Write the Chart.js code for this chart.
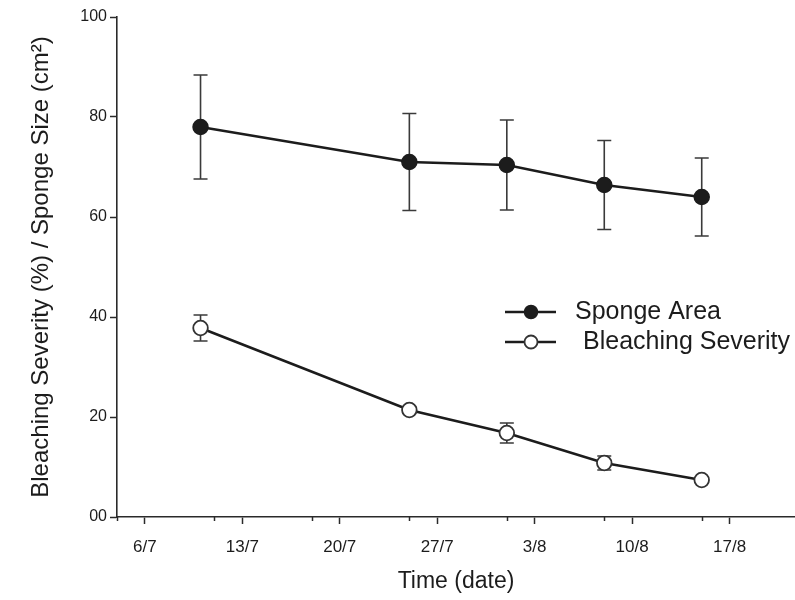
<!DOCTYPE html>
<html>
<head>
<meta charset="utf-8">
<script src="https://cdn.jsdelivr.net/npm/chart.js@4"></script>
<style>
  html, body { margin: 0; padding: 0; background: #ffffff; }
  #wrap { width: 795px; height: 600px; }
</style>
</head>
<body>
<div id="wrap"><canvas id="c" width="795" height="600"></canvas></div>
<script>
// ---- data (x values are days counted from 1 July as day 1; August days = 31 + date) ----
const sampleDays = [10, 25, 32, 39, 46];
const spongeArea = [78.0, 71.0, 70.4, 66.4, 64.0];
const spongeAreaErr = [10.4, 9.7, 9.0, 8.9, 7.8];
const bleachingSeverity = [37.8, 21.4, 16.8, 10.8, 7.4];
const bleachingSeverityErr = [2.6, 0.7, 2.0, 1.4, 0.4];
const seriesLabels = ['Sponge Area', 'Bleaching Severity'];

const xTickDays = [6, 13, 20, 27, 34, 41, 48];
const xTickLabels = ['6/7', '13/7', '20/7', '27/7', '3/8', '10/8', '17/8'];
const xMinorTickDays = [4, 11, 18, 25, 32, 39, 46];
const xRange = [4, 52.7];

const yTickValues = [0, 20, 40, 60, 80, 100];
const yTickLabels = ['00', '20', '40', '60', '80', '100'];
const yRange = [0, 100];

const xTitle = 'Time (date)';
const yTitle = 'Bleaching Severity (%) / Sponge Size (cm\u00B2)';

// ---- styles ----
const INK = '#1c1c1c';
const AXIS = '#2a2a2a';
const FONT = "'Liberation Sans', Arial, sans-serif";
const NARROW = "'Liberation Sans Narrow', 'Liberation Sans', Arial, sans-serif";

const spongePts = sampleDays.map((d, i) => ({ x: d, y: spongeArea[i] }));
const bleachPts = sampleDays.map((d, i) => ({ x: d, y: bleachingSeverity[i] }));

const errorBarPlugin = {
  id: 'errorBars',
  beforeDatasetsDraw(chart) {
    const { ctx, scales: { x, y } } = chart;
    const sets = [[spongeArea, spongeAreaErr], [bleachingSeverity, bleachingSeverityErr]];
    ctx.save();
    ctx.strokeStyle = '#3a3a3a';
    ctx.lineWidth = 1.6;
    sets.forEach(([vals, errs]) => {
      vals.forEach((v, i) => {
        const px = x.getPixelForValue(sampleDays[i]);
        const top = y.getPixelForValue(v + errs[i]);
        const bot = y.getPixelForValue(v - errs[i]);
        ctx.beginPath();
        ctx.moveTo(px, top); ctx.lineTo(px, bot);
        ctx.moveTo(px - 7, top); ctx.lineTo(px + 7, top);
        ctx.moveTo(px - 7, bot); ctx.lineTo(px + 7, bot);
        ctx.stroke();
      });
    });
    ctx.restore();
  }
};

const minorTickPlugin = {
  id: 'minorTicks',
  afterDraw(chart) {
    const { ctx, scales: { x }, chartArea } = chart;
    ctx.save();
    ctx.strokeStyle = AXIS;
    ctx.lineWidth = 1.5;
    xMinorTickDays.forEach(d => {
      const px = Math.round(x.getPixelForValue(d)) + 0.5;
      ctx.beginPath();
      ctx.moveTo(px, chartArea.bottom);
      ctx.lineTo(px, chartArea.bottom + 4);
      ctx.stroke();
    });
    ctx.restore();
  }
};

const legendPlugin = {
  id: 'insideLegend',
  afterDraw(chart) {
    const { ctx } = chart;
    const rows = [
      { ds: 0, y: 312, tx: 575 },
      { ds: 1, y: 342, tx: 583 }
    ];
    ctx.save();
    rows.forEach(r => {
      const ds = chart.data.datasets[r.ds];
      ctx.strokeStyle = ds.borderColor;
      ctx.lineWidth = 2.5;
      ctx.beginPath();
      ctx.moveTo(505, r.y); ctx.lineTo(556, r.y);
      ctx.stroke();
      ctx.beginPath();
      ctx.arc(531, r.y, 6.5, 0, Math.PI * 2);
      ctx.fillStyle = ds.pointBackgroundColor;
      ctx.fill();
      ctx.lineWidth = ds.pointBorderWidth;
      ctx.strokeStyle = ds.pointBorderColor;
      ctx.stroke();
      ctx.fillStyle = INK;
      ctx.font = '25px ' + FONT;
      ctx.textBaseline = 'middle';
      ctx.textAlign = 'left';
      ctx.fillText(ds.label, r.tx, r.y);
    });
    ctx.restore();
  }
};

new Chart(document.getElementById('c'), {
  type: 'line',
  data: {
    datasets: [
      {
        label: seriesLabels[0],
        data: spongePts,
        borderColor: INK,
        borderWidth: 2.6,
        pointStyle: 'circle',
        pointRadius: 7.5,
        pointBackgroundColor: INK,
        pointBorderColor: INK,
        pointBorderWidth: 1.5,
        tension: 0
      },
      {
        label: seriesLabels[1],
        data: bleachPts,
        borderColor: INK,
        borderWidth: 2.6,
        pointStyle: 'circle',
        pointRadius: 7.3,
        pointBackgroundColor: '#ffffff',
        pointBorderColor: '#333333',
        pointBorderWidth: 1.8,
        tension: 0
      }
    ]
  },
  options: {
    responsive: false,
    animation: false,
    devicePixelRatio: 1,
    layout: { autoPadding: false, padding: { top: 17, right: 0, bottom: 0, left: 0 } },
    plugins: {
      legend: { display: false },
      tooltip: { enabled: false }
    },
    scales: {
      x: {
        type: 'linear',
        min: xRange[0],
        max: xRange[1],
        afterBuildTicks(scale) {
          scale.ticks = xTickDays.map(v => ({ value: v }));
        },
        afterFit(scale) {
          scale.height = 83;
          scale.paddingLeft = 0;
          scale.paddingRight = 0;
        },
        grid: {
          display: true,
          drawOnChartArea: false,
          drawTicks: true,
          tickLength: 7,
          tickWidth: 1.5,
          tickColor: AXIS
        },
        border: { display: true, color: AXIS, width: 1.6 },
        ticks: {
          autoSkip: false,
          maxRotation: 0,
          padding: 13,
          color: INK,
          font: { family: NARROW, size: 17 },
          callback(value) {
            const i = xTickDays.indexOf(value);
            return i >= 0 ? xTickLabels[i] : '';
          }
        },
        title: {
          display: true,
          text: xTitle,
          color: INK,
          font: { family: FONT, size: 23 },
          padding: { top: 0, bottom: 5 }
        }
      },
      y: {
        type: 'linear',
        min: yRange[0],
        max: yRange[1],
        afterBuildTicks(scale) {
          scale.ticks = yTickValues.map(v => ({ value: v }));
        },
        afterFit(scale) {
          scale.width = 117;
          scale.paddingTop = 0;
          scale.paddingBottom = 0;
        },
        grid: {
          display: true,
          drawOnChartArea: false,
          drawTicks: true,
          tickLength: 7,
          tickWidth: 1.5,
          tickColor: AXIS
        },
        border: { display: true, color: AXIS, width: 1.6 },
        ticks: {
          padding: 3,
          color: INK,
          font: { family: FONT, size: 16 },
          callback(value) {
            const i = yTickValues.indexOf(value);
            return i >= 0 ? yTickLabels[i] : '';
          }
        },
        title: {
          display: true,
          text: yTitle,
          color: INK,
          font: { family: FONT, size: 24 },
          padding: { top: 27, bottom: 0 }
        }
      }
    }
  },
  plugins: [errorBarPlugin, minorTickPlugin, legendPlugin]
});
</script>
</body>
</html>
